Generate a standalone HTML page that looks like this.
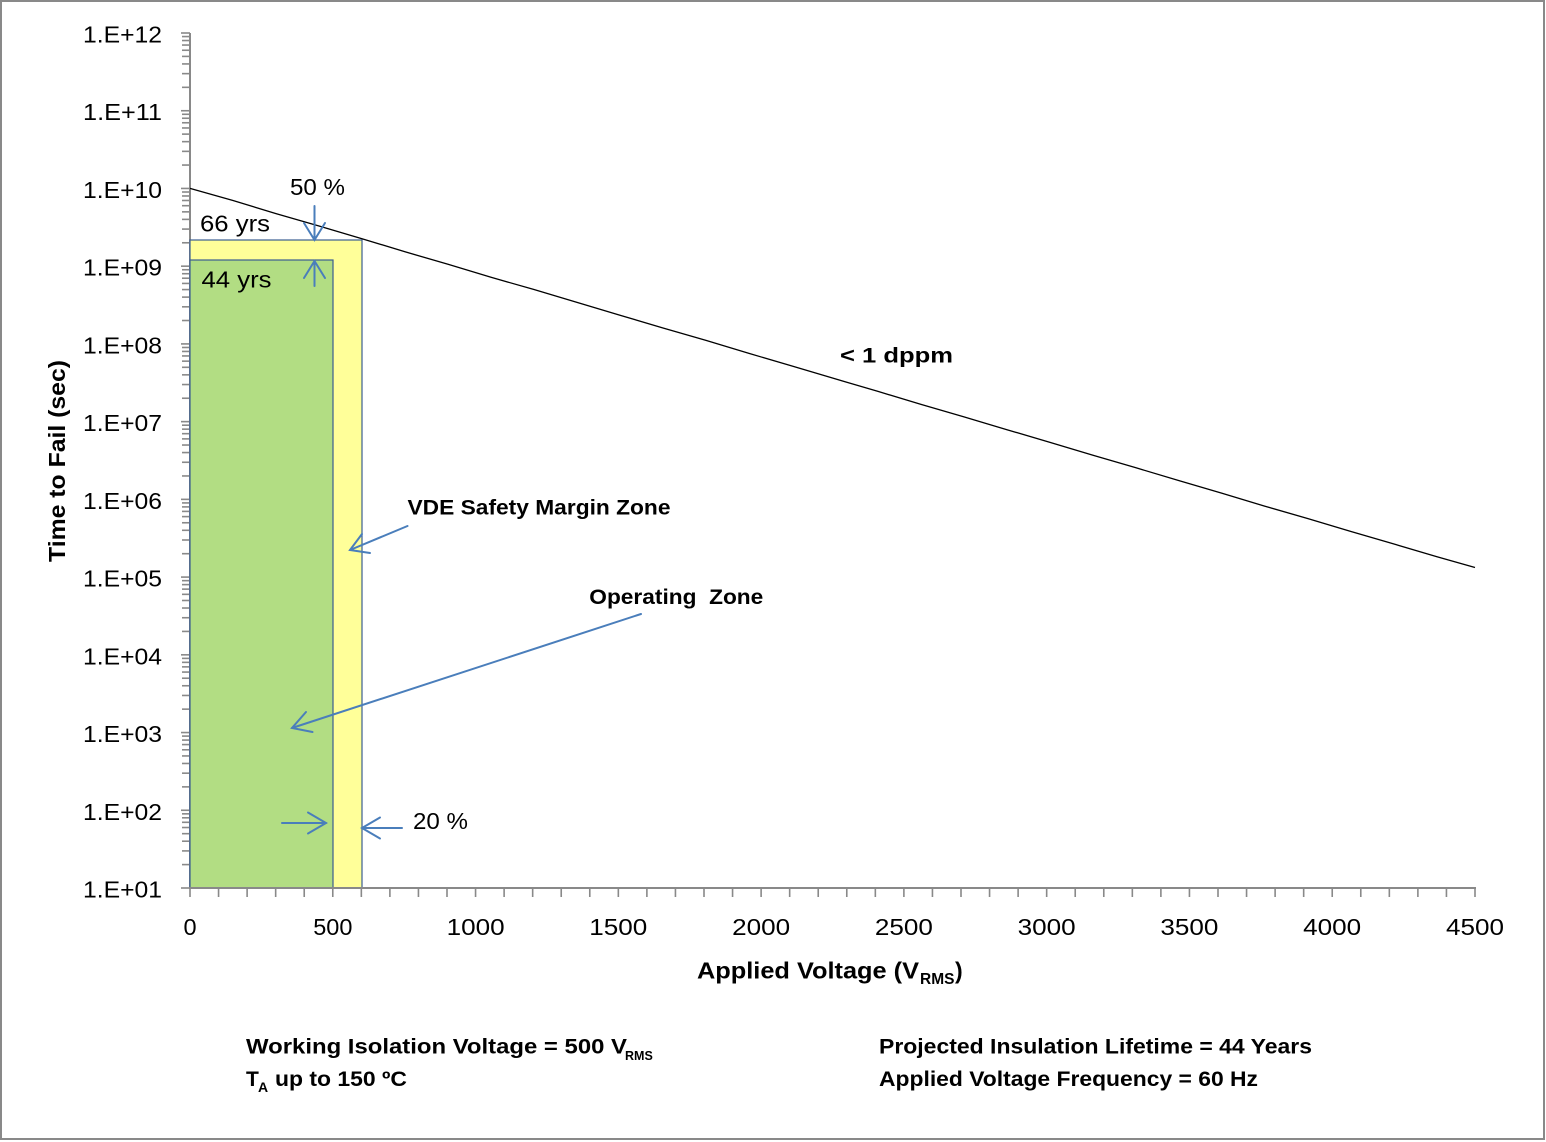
<!DOCTYPE html>
<html><head><meta charset="utf-8"><style>
html,body{margin:0;padding:0;background:#fff;}
svg{display:block;}
text{font-family:"Liberation Sans",Arial,sans-serif;fill:#000;}
.b{font-weight:bold;}
</style></head><body>
<svg width="1546" height="1142" viewBox="0 0 1546 1142" xmlns="http://www.w3.org/2000/svg">
<rect x="0" y="0" width="1546" height="1142" fill="#fff"/>
<rect x="1" y="1" width="1543" height="1138" fill="none" stroke="#898989" stroke-width="2"/>

<defs>
<g id="dec" stroke="#898989" stroke-width="1.6">
<line x1="181" y1="0" x2="190" y2="0"/>
<line x1="182" y1="-23.40" x2="190" y2="-23.40"/>
<line x1="182" y1="-37.09" x2="190" y2="-37.09"/>
<line x1="182" y1="-46.80" x2="190" y2="-46.80"/>
<line x1="182" y1="-54.33" x2="190" y2="-54.33"/>
<line x1="182" y1="-60.48" x2="190" y2="-60.48"/>
<line x1="182" y1="-65.69" x2="190" y2="-65.69"/>
<line x1="182" y1="-70.20" x2="190" y2="-70.20"/>
<line x1="182" y1="-74.17" x2="190" y2="-74.17"/>
</g>
</defs>

<!-- y axis -->
<line x1="190" y1="33" x2="190" y2="888" stroke="#898989" stroke-width="2"/>
<use href="#dec" transform="translate(0,888)"/>
<use href="#dec" transform="translate(0,810.27)"/>
<use href="#dec" transform="translate(0,732.55)"/>
<use href="#dec" transform="translate(0,654.82)"/>
<use href="#dec" transform="translate(0,577.09)"/>
<use href="#dec" transform="translate(0,499.36)"/>
<use href="#dec" transform="translate(0,421.64)"/>
<use href="#dec" transform="translate(0,343.91)"/>
<use href="#dec" transform="translate(0,266.18)"/>
<use href="#dec" transform="translate(0,188.45)"/>
<use href="#dec" transform="translate(0,110.73)"/>
<line x1="181" y1="33" x2="190" y2="33" stroke="#898989" stroke-width="1.6"/>

<!-- zones -->
<rect x="190" y="240" width="172" height="648" fill="#FFFF99" stroke="#3B5E91" stroke-width="1.2"/>
<rect x="190" y="260" width="143" height="628" fill="#B2DD83" stroke="#3B5E91" stroke-width="1.2"/>

<!-- x axis -->
<line x1="189" y1="888" x2="1476" y2="888" stroke="#898989" stroke-width="2"/>
<line x1="189.2" y1="892.5" x2="1476" y2="892.5" stroke="#898989" stroke-width="9" stroke-dasharray="1.6 26.9556"/>

<!-- curve -->
<polyline fill="none" stroke="#000" stroke-width="1.3" points="190,188.4 233,200.5 276,213.6 319,226 362,238.7 405,251.8 448,264.2 491,277.3 534,289.5 577,302.4 620,315.2 663,328 706,340.4 749,353.4 792,366 835,378.8 878,391.4 921,404.4 964,416.9 1007,429.7 1050,442.4 1093,455.3 1136,467.8 1179,480.6 1222,493.3 1265,506.2 1308,518.6 1351,531.5 1394,544 1437,556.8 1475,567.5"/>

<!-- arrows -->
<g stroke="#4A7EBB" stroke-width="2" fill="none" stroke-linecap="round">
<line x1="314.5" y1="206" x2="314.5" y2="240"/>
<polyline points="304,223 314.5,240 325,223"/>
<line x1="314.5" y1="286" x2="314.5" y2="261"/>
<polyline points="304,278 314.5,261 325,278"/>
<line x1="282" y1="823" x2="326" y2="823"/>
<polyline points="308,812.5 326,823 308,833.5"/>
<line x1="402" y1="828" x2="362" y2="828"/>
<polyline points="380,817.5 362,828 380,838.5"/>
<line x1="407.5" y1="526" x2="350" y2="550"/>
<polyline points="362,534 350,550 370,553"/>
<line x1="641" y1="614" x2="292" y2="728"/>
<polyline points="306,712 292,728 312.5,732"/>
</g>

<!-- y tick labels -->
<g font-size="23.5" text-anchor="end">
<text x="162" y="42.5" textLength="79" lengthAdjust="spacingAndGlyphs">1.E+12</text>
<text x="162" y="120.2" textLength="79" lengthAdjust="spacingAndGlyphs">1.E+11</text>
<text x="162" y="198" textLength="79" lengthAdjust="spacingAndGlyphs">1.E+10</text>
<text x="162" y="275.7" textLength="79" lengthAdjust="spacingAndGlyphs">1.E+09</text>
<text x="162" y="353.4" textLength="79" lengthAdjust="spacingAndGlyphs">1.E+08</text>
<text x="162" y="431.1" textLength="79" lengthAdjust="spacingAndGlyphs">1.E+07</text>
<text x="162" y="508.9" textLength="79" lengthAdjust="spacingAndGlyphs">1.E+06</text>
<text x="162" y="586.6" textLength="79" lengthAdjust="spacingAndGlyphs">1.E+05</text>
<text x="162" y="664.3" textLength="79" lengthAdjust="spacingAndGlyphs">1.E+04</text>
<text x="162" y="742" textLength="79" lengthAdjust="spacingAndGlyphs">1.E+03</text>
<text x="162" y="819.8" textLength="79" lengthAdjust="spacingAndGlyphs">1.E+02</text>
<text x="162" y="897.5" textLength="79" lengthAdjust="spacingAndGlyphs">1.E+01</text>
</g>

<!-- x tick labels -->
<g font-size="23.5" text-anchor="middle">
<text x="190" y="935">0</text>
<text x="332.8" y="935">500</text>
<text x="475.6" y="935" textLength="58" lengthAdjust="spacingAndGlyphs">1000</text>
<text x="618.3" y="935" textLength="58" lengthAdjust="spacingAndGlyphs">1500</text>
<text x="761.1" y="935" textLength="58" lengthAdjust="spacingAndGlyphs">2000</text>
<text x="903.9" y="935" textLength="58" lengthAdjust="spacingAndGlyphs">2500</text>
<text x="1046.7" y="935" textLength="58" lengthAdjust="spacingAndGlyphs">3000</text>
<text x="1189.4" y="935" textLength="58" lengthAdjust="spacingAndGlyphs">3500</text>
<text x="1332.2" y="935" textLength="58" lengthAdjust="spacingAndGlyphs">4000</text>
<text x="1475" y="935" textLength="58" lengthAdjust="spacingAndGlyphs">4500</text>
</g>

<!-- annotations -->
<g font-size="23.5">
<text x="290" y="195" textLength="55" lengthAdjust="spacingAndGlyphs">50 %</text>
<text x="200" y="231.7" textLength="70" lengthAdjust="spacingAndGlyphs">66 yrs</text>
<text x="201.5" y="287.7" textLength="70" lengthAdjust="spacingAndGlyphs">44 yrs</text>
<text x="413" y="829" textLength="55" lengthAdjust="spacingAndGlyphs">20 %</text>
</g>
<g font-size="21.5" class="b">
<text class="b" x="840" y="362.3" textLength="113" lengthAdjust="spacingAndGlyphs">&lt; 1 dppm</text>
<text class="b" x="407.5" y="514.3" textLength="263" lengthAdjust="spacingAndGlyphs">VDE Safety Margin Zone</text>
<text class="b" x="589.3" y="604" textLength="174" lengthAdjust="spacingAndGlyphs" xml:space="preserve">Operating  Zone</text>
</g>

<!-- axis titles -->
<g class="b">
<text class="b" x="697" y="978.3" font-size="23" textLength="222" lengthAdjust="spacingAndGlyphs">Applied Voltage (V</text>
<text class="b" x="920" y="984" font-size="15.5">RMS</text>
<text class="b" x="955" y="978.3" font-size="23">)</text>
<text class="b" transform="translate(65,461) rotate(-90)" x="0" y="0" font-size="23" text-anchor="middle" textLength="202" lengthAdjust="spacingAndGlyphs">Time to Fail (sec)</text>
</g>

<!-- notes -->
<g class="b" font-size="21">
<text class="b" x="246" y="1053.5" textLength="381" lengthAdjust="spacingAndGlyphs">Working Isolation Voltage = 500 V</text>
<text class="b" x="625" y="1060" font-size="12.5">RMS</text>
<text class="b" x="246" y="1086">T</text>
<text class="b" x="258" y="1092" font-size="14">A</text>
<text class="b" x="275" y="1086" textLength="132" lengthAdjust="spacingAndGlyphs">up to 150 ºC</text>
<text class="b" x="879" y="1053.5" textLength="433" lengthAdjust="spacingAndGlyphs">Projected Insulation Lifetime = 44 Years</text>
<text class="b" x="879" y="1086" textLength="379" lengthAdjust="spacingAndGlyphs">Applied Voltage Frequency = 60 Hz</text>
</g>
</svg>
</body></html>
